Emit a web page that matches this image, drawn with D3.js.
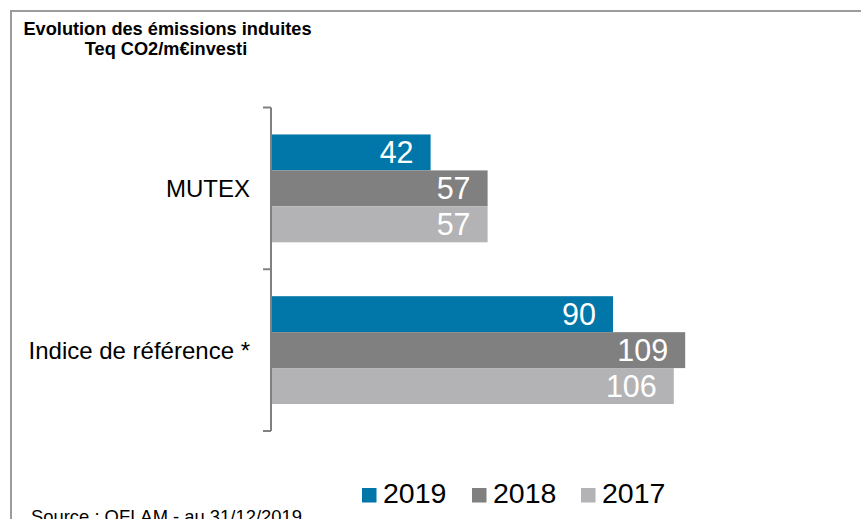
<!DOCTYPE html>
<html><head><meta charset="utf-8">
<script src="https://cdn.jsdelivr.net/npm/d3@7"></script>
<style>html,body{margin:0;padding:0;background:#fff;overflow:hidden}</style>
</head><body>
<svg id="c" width="861" height="519"></svg>
<script>
const categories = ["MUTEX", "Indice de référence *"];
const years = ["2019", "2018", "2017"];
const values2019 = [42, 90];
const values2018 = [57, 109];
const values2017 = [57, 106];
const colors = ["#0076a9", "#808080", "#b3b3b5"];
const titleLines = ["Evolution des émissions induites", "Teq CO2/m€investi"];
const sourceText = "Source : OFLAM - au 31/12/2019";

const seriesValues = [values2019, values2018, values2017];
const svg = d3.select("#c");
const font = "'Liberation Sans', Arial, sans-serif";

// frame
svg.append("line").attr("x1", 11).attr("x2", 861).attr("y1", 11).attr("y2", 11)
  .attr("stroke", "#9c9c9c").attr("stroke-width", 2);
svg.append("line").attr("x1", 11).attr("x2", 11).attr("y1", 10).attr("y2", 519)
  .attr("stroke", "#9c9c9c").attr("stroke-width", 2);

// title
svg.append("text").attr("x", 167.5).attr("y", 35).attr("text-anchor", "middle")
  .attr("font-family", font).attr("font-weight", "bold").attr("font-size", 18.2)
  .text(titleLines[0]);
svg.append("text").attr("x", 166).attr("y", 55).attr("text-anchor", "middle")
  .attr("font-family", font).attr("font-weight", "bold").attr("font-size", 18.2)
  .text(titleLines[1]);

const x = d3.scaleLinear().domain([0, 150]).range([271, 841]);
const y0 = d3.scaleBand().domain(categories).range([107.5, 431]);
const y1 = d3.scaleBand().domain(years).range([0, y0.bandwidth()]).paddingInner(0).paddingOuter(0.75);

const data = [];
categories.forEach((c, ci) => years.forEach((yr, yi) => data.push({c, yr, yi, v: seriesValues[yi][ci]})));

svg.selectAll("rect.bar").data(data).join("rect").attr("class", "bar")
  .attr("x", x(0)).attr("y", d => y0(d.c) + y1(d.yr))
  .attr("width", d => x(d.v) - x(0)).attr("height", y1.bandwidth())
  .attr("fill", d => colors[d.yi]);

svg.selectAll("text.val").data(data).join("text").attr("class", "val")
  .attr("x", d => x(d.v) - 17).attr("y", d => y0(d.c) + y1(d.yr) + y1.bandwidth() / 2 + 11)
  .attr("text-anchor", "end").attr("fill", "#fff")
  .attr("font-family", font).attr("font-size", 30.5)
  .text(d => d.v);

// axis
const ag = svg.append("g");
ag.append("line").attr("x1", 271).attr("x2", 271).attr("y1", y0.range()[0]).attr("y2", y0.range()[1])
  .attr("stroke", "#808080").attr("stroke-width", 2);
const tickYs = categories.map(c => y0(c)).concat([y0.range()[1]]);
ag.selectAll("line.tk").data(tickYs).join("line").attr("class", "tk")
  .attr("x1", 263).attr("x2", 271).attr("y1", d => d).attr("y2", d => d)
  .attr("stroke", "#808080").attr("stroke-width", 2);

svg.selectAll("text.cat").data(categories).join("text").attr("class", "cat")
  .attr("x", 250).attr("y", d => y0(d) + y0.bandwidth() / 2 + 8.5)
  .attr("text-anchor", "end").attr("font-family", font).attr("font-size", 24)
  .attr("fill", "#000").text(d => d);

// legend
const legX = [362, 472, 581];
const lg = svg.selectAll("g.leg").data(years).join("g").attr("class", "leg")
  .attr("transform", (d, i) => `translate(${legX[i]},488)`);
lg.append("rect").attr("width", 14.5).attr("height", 14.5).attr("fill", (d, i) => colors[i]);
lg.append("text").attr("x", 21).attr("y", 15.3).attr("font-family", font).attr("font-size", 28.5)
  .attr("fill", "#000").text(d => d);

// source
svg.append("text").attr("x", 31).attr("y", 523).attr("font-family", font).attr("font-size", 18.4)
  .attr("fill", "#000").text(sourceText);
</script>
</body></html>
